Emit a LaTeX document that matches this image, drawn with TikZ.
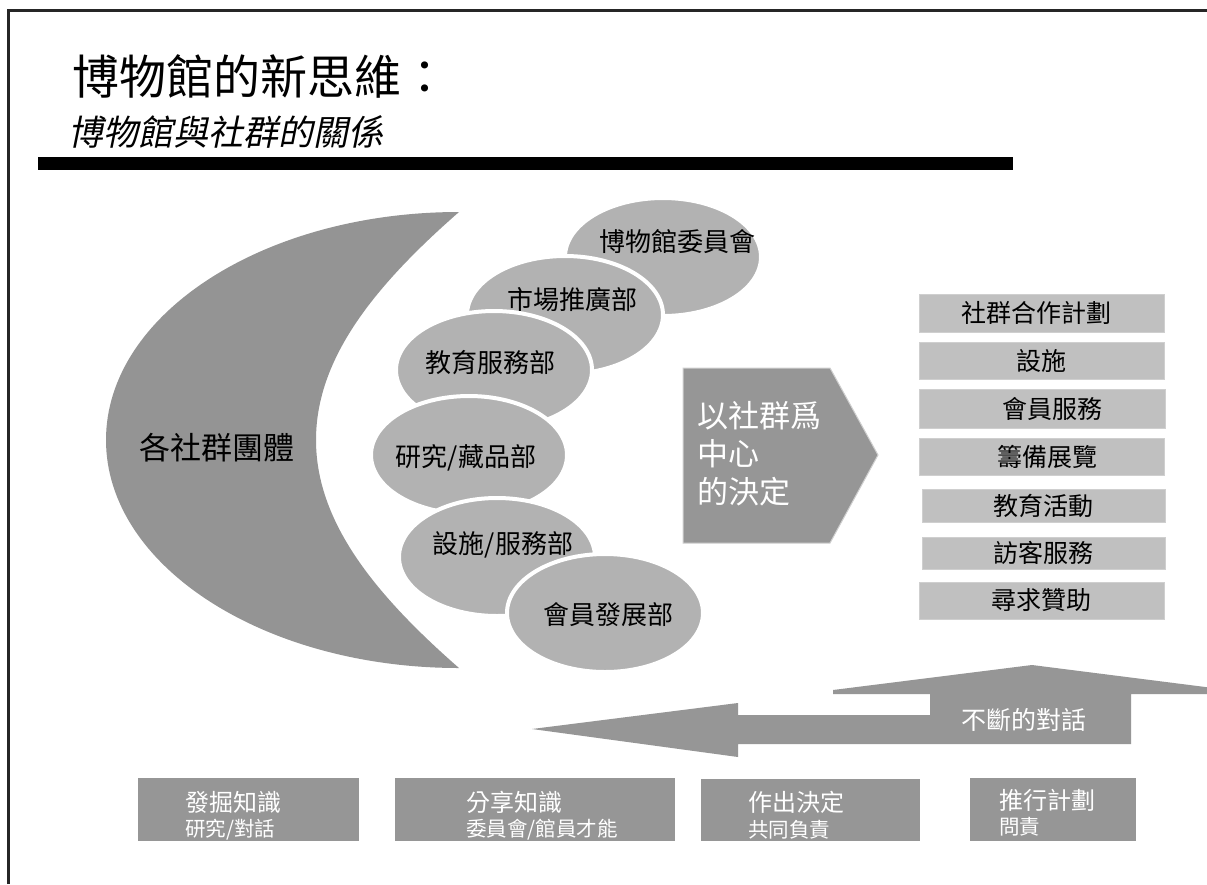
\documentclass[tikz,border=0pt]{standalone}
\usepackage{fontspec}
\setmainfont{Noto Sans CJK TC}
\newfontfamily\cjkit[FakeSlant=0.2]{Noto Sans CJK TC}
\usetikzlibrary{shapes.geometric}
\definecolor{crescentgray}{HTML}{949494}
\definecolor{ellgray}{HTML}{B2B2B2}
\definecolor{midgray}{HTML}{969696}
\definecolor{boxlight}{HTML}{C0C0C0}
\definecolor{edgegray}{HTML}{CFCFCF}
\begin{document}
\begin{tikzpicture}[x=1pt,y=-1pt,
  every node/.style={inner sep=0pt, outer sep=0pt},
  dept/.style={ellipse, fill=ellgray, draw=white, line width=4pt, minimum width=196pt, minimum height=118pt},
  depttext/.style={font=\fontsize{26}{30}\selectfont, text=black},
  rbox/.style={rectangle, fill=boxlight, draw=edgegray, line width=0.8pt, anchor=north west, font=\fontsize{25}{30}\selectfont, text=black},
  bbox/.style={rectangle, fill=midgray, draw=none, anchor=north west},
  bline/.style={anchor=west, text=white, font=\fontsize{24}{28}\selectfont},
  bsub/.style={anchor=west, text=white, font=\fontsize{20.5}{24}\selectfont}
]
\useasboundingbox (0,0) rectangle (1207,884);
\fill[white] (0,0) rectangle (1207,884);

% frame
\draw[line width=2.5pt, black!85] (8.5,884) -- (8.5,10.5) -- (1207,10.5);

% title
\node[anchor=west, font=\fontsize{47}{56}\selectfont] (title) at (72,76) {博物館的新思維：};
\node[anchor=west, font=\cjkit\fontsize{35}{42}\selectfont] (subtitle) at (68,132) {博物館與社群的關係};
\fill[black] (38,157) rectangle (1013,170);

% crescent
\fill[crescentgray] (459,212) arc[start angle=270, end angle=90, x radius=353, y radius=228]
  .. controls (372,592) and (316,520) .. (316,440)
  .. controls (316,360) and (372,288) .. (459,212) -- cycle;
\node[font=\fontsize{31}{36}\selectfont] (comm) at (217,448) {各社群團體};

% departments
\node[dept] (e1) at (663,257) {};
\node[depttext] (t1) at (677,242) {博物館委員會};
\node[dept] (e2) at (565,315) {};
\node[depttext] (t2) at (572,300) {市場推廣部};
\node[dept] (e3) at (494,370) {};
\node[depttext] (t3) at (490,363) {教育服務部};
\node[dept] (e4) at (469,455) {};
\node[depttext] (t4) at (466,458) {研究/藏品部};
\node[dept] (e5) at (497,557) {};
\node[depttext] (t5) at (503,545) {設施/服務部};
\node[dept] (e6) at (605,613) {};
\node[depttext] (t6) at (608,615) {會員發展部};

% decision pentagon
\filldraw[fill=midgray, draw=edgegray, line width=1pt] (683,368) -- (830,368) -- (878,455) -- (830,543) -- (683,543) -- cycle;
\node[anchor=west, align=left, text=white, font=\fontsize{31}{38}\selectfont] (dec) at (697,454) {以社群爲\\中心\\的決定};

% right boxes
\node[rbox, minimum width=245pt, minimum height=38pt] (r1) at (919,294) {社群合作計劃\hspace*{10pt}};
\node[rbox, minimum width=245pt, minimum height=37pt] (r2) at (919,342) {設施};
\node[rbox, minimum width=246pt, minimum height=39pt] (r3) at (919,389) {\hspace*{20pt}會員服務};
\node[rbox, minimum width=245pt, minimum height=37pt] (r4) at (919,438) {\hspace*{12pt}籌備展覽};
\node[rbox, minimum width=243pt, minimum height=33pt] (r5) at (922,489) {教育活動};
\node[rbox, minimum width=243pt, minimum height=32pt] (r6) at (922,537) {訪客服務};
\node[rbox, minimum width=245pt, minimum height=37pt] (r7) at (919,582) {尋求贊助};

% dialogue arrows
\begin{scope}
\clip (0,0) rectangle (1207,884);
\fill[midgray] (532,729) -- (738,703) -- (738,715) -- (930,715) -- (930,694) -- (833,694) -- (833,690)
  -- (1032,665) -- (1229,690) -- (1229,694) -- (1131,694) -- (1131,744) -- (738,744) -- (738,757) -- cycle;
\end{scope}
\node[text=white, font=\fontsize{25}{30}\selectfont] (dlg) at (1024,720) {不斷的對話};

% bottom boxes
\node[bbox, minimum width=221pt, minimum height=63pt] (b1) at (138,778) {};
\node[bline] (b1a) at (185,802) {發掘知識};
\node[bsub] (b1b) at (185,830) {研究/對話};
\node[bbox, minimum width=280pt, minimum height=63pt] (b2) at (395,778) {};
\node[bline] (b2a) at (466,802) {分享知識};
\node[bsub] (b2b) at (466,830) {委員會/館員才能};
\node[bbox, minimum width=219pt, minimum height=62pt] (b3) at (701,779) {};
\node[bline] (b3a) at (748,802) {作出決定};
\node[bsub] (b3b) at (748,830) {共同負責};
\node[bbox, minimum width=166pt, minimum height=63pt] (b4) at (970,778) {};
\node[bline] (b4a) at (999,800) {推行計劃};
\node[bsub] (b4b) at (999,827) {問責};
\end{tikzpicture}
\end{document}
